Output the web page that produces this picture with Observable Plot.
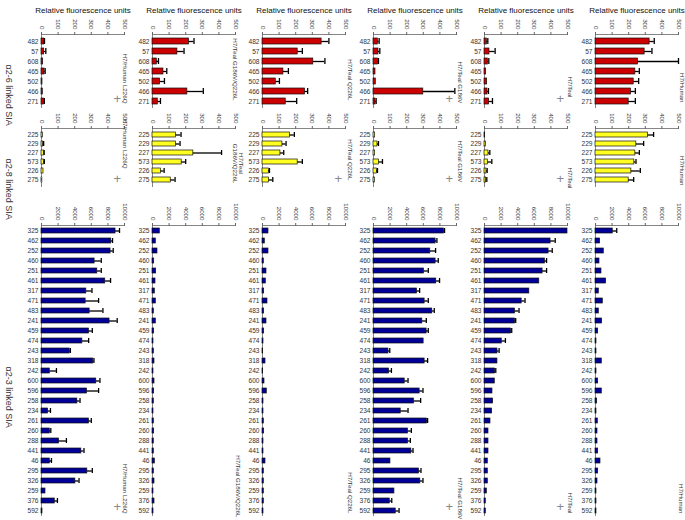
<!DOCTYPE html>
<html><head><meta charset="utf-8">
<script src="https://cdn.jsdelivr.net/npm/d3@7"></script>
<script src="https://cdn.jsdelivr.net/npm/@observablehq/plot@0.6"></script>
<style>
html,body{margin:0;padding:0;background:#fff;}
#fig{position:relative;width:685px;height:520px;overflow:hidden;}
#fig svg{position:absolute;}
</style></head><body><div id="fig"></div>
<script>
// ---------- data ----------
const strains = ["H7/Human L226Q", "H7/Teal G186V/Q226L", "H7/Teal Q226L", "H7/Teal G186V", "H7/Teal", "H7/Human"];
const rowLabels = ["α2-6 linked SIA", "α2-8 linked SIA", "α2-3 linked SIA"];
const axisTitle = "Relative fluorescence units";

const glycans26 = ["482","57","608","465","502","466","271"];
const glycans28 = ["225","229","227","573","226","275"];
const glycans23 = ["325","462","252","460","251","461","317","471","483","241","459","474","243","318","242",
                   "600","596","258","234","261","260","288","441","46","295","326","259","376","592"];
const ticks26 = [0,100,200,300,400,500];
const ticks28 = [0,100,200,300,400,500];
const ticks23 = [0,2000,4000,6000,8000,10000];

// alpha2-6 (per strain, in glycan order)
const values26 = [
  [16, 16, 10, 18, 6, 8, 14],
  [220, 150, 26, 66, 46, 210, 32],
  [356, 212, 306, 126, 80, 256, 140],
  [26, 30, 26, 12, 14, 300, 12],
  [14, 30, 20, 10, 16, 18, 28],
  [326, 296, 256, 240, 230, 214, 200]
];
const errors26 = [
  [2, 10, 0, 4, 0, 0, 3],
  [30, 40, 10, 20, 26, 96, 16],
  [44, 28, 70, 30, 22, 16, 66],
  [8, 8, 4, 0, 0, 190, 4],
  [6, 34, 6, 0, 0, 6, 20],
  [28, 44, 244, 24, 30, 26, 40]
];
// alpha2-8
const values28 = [
  [8, 10, 14, 14, 12, 5],
  [142, 142, 246, 176, 52, 110],
  [166, 120, 108, 212, 38, 40],
  [10, 24, 10, 34, 20, 8],
  [4, 8, 24, 20, 12, 10],
  [316, 246, 240, 234, 216, 200]
];
const errors28 = [
  [0, 3, 2, 3, 0, 0],
  [30, 24, 170, 24, 18, 26],
  [26, 22, 20, 28, 4, 22],
  [0, 6, 0, 20, 4, 0],
  [0, 0, 8, 24, 4, 4],
  [34, 44, 24, 10, 54, 30]
];
// alpha2-3
const values23 = [
  [8920,8400,8320,6400,6720,7680,5400,5320,5800,8200,5720,4920,3400,6240,1000,6600,5480,4320,800,5720,1000,2120,4800,1000,5520,4080,480,1600,120],
  [880,400,600,200,440,360,280,400,160,400,200,120,160,240,120,240,200,160,120,160,200,160,160,280,160,240,120,240,120],
  [720,280,720,160,480,400,200,600,200,480,200,120,80,360,80,240,520,120,120,160,200,120,120,360,160,160,160,160,120],
  [8480,7480,6840,7480,6080,7560,5240,6160,7080,5880,6400,6040,1800,6160,1880,3760,5560,4880,3280,6440,4160,4160,4560,2040,5480,5640,2520,1960,2680],
  [10000,7960,7720,7280,7000,6600,5400,4480,3680,3680,3200,2080,1560,1560,1280,1240,960,1040,920,720,480,480,480,400,400,400,280,160,160],
  [2080,560,1000,480,720,1280,400,880,400,800,320,120,120,760,120,320,760,200,120,280,240,240,320,600,320,240,120,120,120]
];
const errors23 = [
  [480,160,320,800,480,640,680,1560,1600,920,400,760,80,80,800,440,1400,320,280,280,120,880,320,200,600,440,0,320,0],
  [0,0,0,0,0,0,0,0,0,0,0,0,0,0,0,0,0,0,0,0,0,0,0,0,0,0,0,0,0],
  [0,0,0,0,0,0,0,0,0,0,0,0,0,0,0,0,0,0,0,0,0,0,0,0,0,0,0,0,0],
  [80,160,640,320,520,400,320,440,240,480,200,0,160,360,280,400,400,800,880,80,400,280,200,0,240,320,0,240,400],
  [0,560,440,200,480,0,0,400,480,80,80,440,200,0,80,0,0,0,0,0,0,0,0,0,0,0,0,0,0],
  [480,0,0,0,0,0,0,0,0,0,0,0,0,0,0,0,0,0,0,0,0,0,0,0,0,0,0,0,0]
];

// ---------- layout ----------
const FONT = "'Liberation Sans', Arial, sans-serif";
const AXW = 83;                                  // axis length in px
const zeros = [41, 152, 262, 373, 484, 595];     // x of value 0 per column
const rows = [
  {cats: glycans26, vals: values26, errs: errors26, max: 500, ticks: ticks26, fill: "#cc0000",
   top: 0, y0: 34, y1: 108, padding: 0.42, title: true, labelY: 64, plus: [0,3,4],
   labels: [{x:81,y:103},{x:80,y:100},{x:85,y:100},{x:84,y:103},{x:83,y:97},{x:84,y:102}]},
  {cats: glycans28, vals: values28, errs: errors28, max: 500, ticks: ticks28, fill: "#ffff22",
   top: 105, y0: 128, y1: 187, padding: 0.42, title: false, labelY: 158, plus: [0,2,3,4],
   labels: [{x:81,y:168},{x:80,y:163,mid:true,text:"H7/Teal\nG186V/Q226L"},{x:85,y:180},{x:84,y:182},{x:83,y:188},{x:84,y:185}]},
  {cats: glycans23, vals: values23, errs: errors23, max: 10000, ticks: ticks23, fill: "#000099",
   top: 192, y0: 225, y1: 516, padding: 0.48, title: false, labelY: 366, plus: [0,3,4],
   labels: [{x:81,y:513},{x:83,y:517},{x:85,y:513},{x:84,y:519},{x:83,y:513},{x:83,y:513}]}
];

const fig = document.getElementById("fig");

rows.forEach((row, r) => {
  strains.forEach((strain, c) => {
    const zero = zeros[c];
    const ML = c === 0 ? zero : 20;
    const MR = 12, MB = 6;
    const MT = row.y0 - row.top;
    const W = ML + AXW + MR;
    const H = row.y1 - row.top + MB;
    const step = (row.y1 - row.y0) / row.cats.length;
    const data = row.cats.map((g, i) => ({g, v: row.vals[c][i], e: row.errs[c][i]}));
    const withErr = data.filter(d => d.e > 0);
    const lab = row.labels[c];

    const marks = [
      Plot.ruleX([0], {stroke: "#666", strokeWidth: 0.8}),
      (index, scales, values, dims) => {
        const l = d3.create("svg:line")
          .attr("x1", scales.x(0)).attr("x2", scales.x(row.max))
          .attr("y1", dims.marginTop + 0.5).attr("y2", dims.marginTop + 0.5)
          .attr("stroke", "#666").attr("stroke-width", 0.8);
        return l.node();
      },
      Plot.axisX({anchor: "top", ticks: row.ticks, tickFormat: d => String(d), tickSize: 3, tickPadding: 2,
                  tickRotate: 90, fontSize: 6.2, label: null, stroke: "#666", fill: "#333"}),
      Plot.axisY({tickSize: 0, tickPadding: 3, fontSize: 6.6, label: null, fill: "#333"}),
      Plot.barX(data, {y: "g", x: "v", fill: row.fill, stroke: "#111", strokeWidth: 0.7}),
      Plot.ruleY(withErr, {y: "g", x1: "v", x2: d => d.v + d.e, stroke: "#000", strokeWidth: 1.3}),
      Plot.tickX(withErr, {y: "g", x: d => d.v + d.e, stroke: "#000", strokeWidth: 1.3}),
      Plot.text([lab.text || strain], {text: d => d, frameAnchor: "bottom-left", dx: lab.x, dy: lab.y - row.y1,
                  rotate: 90, textAnchor: lab.mid ? "middle" : "end", fontSize: 6.2, fill: "#333"})
    ];
    if (row.title) {
      marks.push(Plot.text([axisTitle], {text: d => d, frameAnchor: "top", dy: 7 - row.y0, fontSize: 8, fill: "#111"}));
    }
    if (c === 0) {
      marks.push(Plot.text([rowLabels[r]], {text: d => d, frameAnchor: "left", dx: 8 - zero,
                  dy: row.labelY - (row.y0 + row.y1) / 2, rotate: 90, fontSize: 9, fill: "#333"}));
    }
    if (row.plus.includes(c)) {
      marks.push(Plot.text(["+"], {text: d => d, frameAnchor: "bottom-left", dx: 72, dy: -step / 2,
                  fontSize: 13, fill: "#888", fontWeight: 300}));
    }

    const svg = Plot.plot({
      width: W, height: H,
      marginLeft: ML, marginRight: MR, marginTop: MT, marginBottom: MB,
      x: {domain: [0, row.max]},
      y: {domain: row.cats, paddingInner: row.padding, paddingOuter: row.padding / 2},
      style: {background: "none", overflow: "visible", fontFamily: FONT, fontSize: "6.5px", color: "#333"},
      marks
    });
    svg.style.left = (zero - ML) + "px";
    svg.style.top = row.top + "px";
    fig.appendChild(svg);
  });
});
</script>
</body></html>
